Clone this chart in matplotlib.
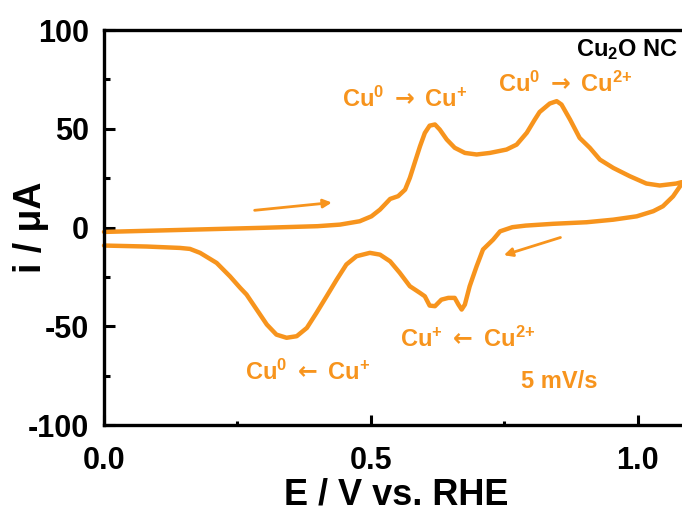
import matplotlib.pyplot as plt
from matplotlib.ticker import MultipleLocator

plt.rcParams['font.family'] = ['Liberation Sans', 'DejaVu Sans']
plt.rcParams['font.weight'] = 'bold'
plt.rcParams['axes.unicode_minus'] = False
plt.rcParams['mathtext.fontset'] = 'custom'
plt.rcParams['mathtext.rm'] = 'Liberation Sans:bold'
plt.rcParams['mathtext.bf'] = 'Liberation Sans:bold'
plt.rcParams['mathtext.it'] = 'Liberation Sans:bold'
plt.rcParams['mathtext.sf'] = 'DejaVu Sans:bold'

orange = '#F7941D'

# anodic (forward) scan
e_fwd = [0.0, 0.10, 0.20, 0.30, 0.40, 0.442, 0.479, 0.501, 0.517, 0.529, 0.536, 0.551,
         0.564, 0.573, 0.582, 0.592, 0.601, 0.610, 0.620, 0.629, 0.642, 0.657, 0.676,
         0.698, 0.723, 0.754, 0.773, 0.792, 0.807, 0.816, 0.835, 0.848, 0.857, 0.873,
         0.891, 0.910, 0.929, 0.954, 0.985, 1.016, 1.041, 1.072, 1.082]
i_fwd = [-2.2, -1.5, -0.8, -0.1, 0.7, 1.5, 3.2, 5.7, 9.1, 12.5, 14.5, 15.9,
         19.2, 25.2, 32.8, 41.2, 47.9, 51.6, 52.2, 49.6, 44.6, 40.4, 37.8,
         37.0, 37.8, 39.5, 42.0, 48.0, 54.7, 58.5, 62.8, 64.0, 62.3, 54.7,
         45.4, 40.4, 34.4, 30.2, 26.0, 22.3, 21.3, 22.3, 23.0]

# cathodic (reverse) scan
e_rev = [1.082, 1.079, 1.066, 1.047, 1.029, 0.998, 0.954, 0.904, 0.841, 0.79, 0.765,
         0.742, 0.729, 0.710, 0.698, 0.685, 0.676, 0.670, 0.664, 0.657, 0.645, 0.632,
         0.620, 0.610, 0.601, 0.592, 0.573, 0.554, 0.536, 0.517, 0.498, 0.473, 0.454,
         0.436, 0.417, 0.398, 0.380, 0.361, 0.342, 0.323, 0.305, 0.286, 0.267, 0.255,
         0.236, 0.211, 0.180, 0.161, 0.142, 0.08, 0.0]
i_rev = [23.0, 20.9, 15.8, 10.8, 8.3, 5.7, 4.0, 2.7, 1.9, 1.0, 0.2,
         -1.9, -6.1, -11.1, -19.6, -29.7, -39.0, -41.5, -39.0, -35.6, -35.6, -36.5,
         -39.8, -39.5, -34.8, -33.1, -29.7, -22.9, -17.1, -13.7, -12.8, -14.5, -18.7,
         -26.3, -34.8, -43.2, -50.8, -55.0, -55.8, -54.2, -49.1, -41.5, -33.9, -30.5,
         -24.7, -17.9, -12.8, -10.8, -10.3, -9.6, -9.1]

fig = plt.figure(figsize=(6.82, 5.14), dpi=100)
ax = fig.add_axes([0.1525, 0.173, 0.861, 0.7685])

ax.plot(e_fwd + e_rev, i_fwd + i_rev, color=orange, lw=3.2, solid_joinstyle='round',
        solid_capstyle='round', clip_on=False)

ax.set_xlim(0, 1.1)
ax.set_ylim(-100, 100)
ax.xaxis.set_major_locator(MultipleLocator(0.5))
ax.xaxis.set_minor_locator(MultipleLocator(0.25))
ax.yaxis.set_major_locator(MultipleLocator(50))
ax.yaxis.set_minor_locator(MultipleLocator(25))
ax.set_xticks([0.0, 0.5, 1.0])
ax.set_xticklabels(['0.0', '0.5', '1.0'])
ax.tick_params(which='major', direction='in', length=8, width=2.2, labelsize=22)
ax.tick_params(which='minor', direction='in', length=4.5, width=2.2)
ax.tick_params(axis='x', which='minor', length=3)
ax.tick_params(axis='x', which='major', length=7, pad=15)
ax.tick_params(axis='y', which='major', pad=11)
ax.tick_params(top=False, right=False)
for lab in ax.get_xticklabels() + ax.get_yticklabels():
    lab.set_fontweight('bold')
ax.spines['right'].set_visible(False)
for s in ['left', 'bottom', 'top']:
    ax.spines[s].set_linewidth(2.4)

ax.set_xlabel('E / V vs. RHE', fontsize=26, fontweight='bold')
ax.set_ylabel('i / μA', fontsize=27, fontweight='bold')
ax.xaxis.set_label_coords(0.498, -0.133)
ax.yaxis.set_label_coords(-0.094, 0.5)

fs = 17
arr_r = r'$\mathsf{\rightarrow}$'
arr_l = r'$\mathsf{\leftarrow}$'
cu0 = r'Cu$^{0}$'
cu1 = r'Cu$^{+}$'
cu2 = r'Cu$^{2{+}}$'
ax.text(1.075, 86.6, r'Cu$_{2}$O NC', color='black', fontsize=fs,
        fontweight='bold', ha='right', va='baseline')
ax.text(0.564, 61.3, cu0 + ' ' + arr_r + ' ' + cu1, color=orange,
        fontsize=fs, fontweight='bold', ha='center', va='baseline')
ax.text(0.865, 68.9, cu0 + ' ' + arr_r + ' ' + cu2, color=orange,
        fontsize=fs, fontweight='bold', ha='center', va='baseline')
ax.text(0.681, -60.3, cu1 + ' ' + arr_l + ' ' + cu2, color=orange,
        fontsize=fs, fontweight='bold', ha='center', va='baseline')
ax.text(0.381, -77.0, cu0 + ' ' + arr_l + ' ' + cu1, color=orange,
        fontsize=fs, fontweight='bold', ha='center', va='baseline')
ax.text(0.852, -81.0, '5 mV/s', color=orange, fontsize=fs,
        fontweight='bold', ha='center', va='baseline')

arrow = dict(arrowstyle='-|>,head_length=0.5,head_width=0.25', color=orange, lw=2)
ax.annotate('', xy=(0.432, 12.8), xytext=(0.277, 8.6), arrowprops=arrow)
ax.annotate('', xy=(0.744, -14.4), xytext=(0.86, -4.6), arrowprops=arrow)

fig.savefig('out.png', dpi=100)
